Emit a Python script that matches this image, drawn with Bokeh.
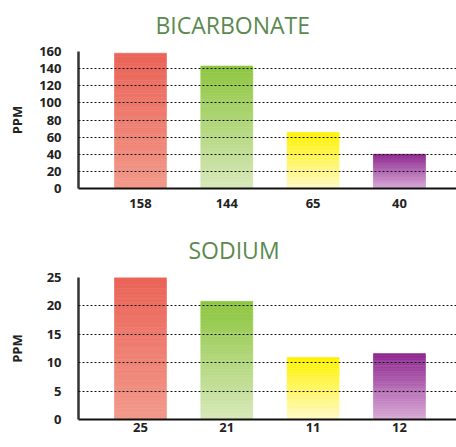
from bokeh.plotting import figure
from bokeh.models import Range1d, FixedTicker, ColumnDataSource, Title
from bokeh.layouts import column
from bokeh.embed import file_html
from bokeh.resources import INLINE

# ---- data ----
bic_labels = ["158", "144", "65", "40"]
bic_values = [158, 143, 65.5, 40]
bic_ticks = [0, 20, 40, 60, 80, 100, 120, 140, 160]

sod_labels = ["25", "21", "11", "12"]
sod_values = [25, 20.8, 10.9, 11.6]
sod_ticks = [0, 5, 10, 15, 20, 25]

top_colors = ["#ea6357", "#8dc63f", "#fff200", "#8e278f"]
bottom_colors = ["#f29a8b", "#d8e9bb", "#fffac8", "#d8abd6"]

TITLE_COLOR = "#5b8a4f"
TEXT_COLOR = "#222222"
FONT = "Open Sans"
NSEG = 40


def hex2rgb(h):
    h = h.lstrip("#")
    return tuple(int(h[i:i + 2], 16) for i in (0, 2, 4))


def mix(c1, c2, t):
    a, b = hex2rgb(c1), hex2rgb(c2)
    return "#%02x%02x%02x" % tuple(round(a[i] + (b[i] - a[i]) * t) for i in range(3))


def make(title, labels, values, ticks, height, min_top, min_bottom,
         title_offset, title_standoff, x_standoff, label_standoff):
    p = figure(width=456, height=height, output_backend="svg",
               toolbar_location=None, tools="",
               x_range=Range1d(-0.718, 3.661),
               y_range=Range1d(ticks[0], ticks[-1]),
               min_border_left=78, min_border_right=0,
               min_border_top=min_top, min_border_bottom=min_bottom)
    p.title = Title(text=title, align="left", offset=title_offset,
                    text_font=FONT, text_font_size="23px",
                    text_font_style="normal", text_color=TITLE_COLOR,
                    vertical_align="top", standoff=title_standoff)
    # gradient bars built from stacked slices
    xs, bots, tops, cols = [], [], [], []
    for i, v in enumerate(values):
        for k in range(NSEG):
            xs.append(i)
            bots.append(v * k / NSEG)
            tops.append(v * (k + 1) / NSEG)
            cols.append(mix(bottom_colors[i], top_colors[i], (k + 0.5) / NSEG))
    src = ColumnDataSource(dict(x=xs, bottom=bots, top=tops, color=cols))
    p.vbar(x="x", bottom="bottom", top="top", width=0.602, source=src,
           fill_color="color", line_color="color", line_width=0.6)

    p.outline_line_color = None
    p.background_fill_color = "white"
    p.border_fill_color = "white"

    p.xgrid.visible = False
    p.ygrid.ticker = FixedTicker(ticks=ticks)
    p.ygrid.grid_line_color = "#111111"
    p.ygrid.grid_line_dash = "2 2"
    p.ygrid.grid_line_width = 1
    p.ygrid.level = "annotation"

    p.xaxis.ticker = FixedTicker(ticks=list(range(len(labels))))
    p.xaxis.major_label_overrides = {i: lab for i, lab in enumerate(labels)}
    p.xaxis.major_tick_line_color = None
    p.xaxis.major_tick_out = 0
    p.xaxis.major_tick_in = 0
    p.xaxis.minor_tick_line_color = None
    p.xaxis.minor_tick_out = 0
    p.xaxis.axis_line_color = "#111111"
    p.xaxis.axis_line_width = 2
    p.xaxis.major_label_standoff = x_standoff
    p.xaxis.major_label_text_font = FONT
    p.xaxis.major_label_text_font_size = "13px"
    p.xaxis.major_label_text_font_style = "bold"
    p.xaxis.major_label_text_color = TEXT_COLOR

    p.yaxis.ticker = FixedTicker(ticks=ticks)
    p.yaxis.major_tick_line_color = None
    p.yaxis.major_tick_out = 0
    p.yaxis.major_tick_in = 0
    p.yaxis.minor_tick_line_color = None
    p.yaxis.minor_tick_out = 0
    p.yaxis.axis_line_color = "#333333"
    p.yaxis.axis_line_width = 2.5
    p.yaxis.major_label_standoff = 17
    p.yaxis.major_label_text_font = FONT
    p.yaxis.major_label_text_font_size = "13px"
    p.yaxis.major_label_text_font_style = "bold"
    p.yaxis.major_label_text_color = TEXT_COLOR
    p.yaxis.axis_label = "PPM"
    p.yaxis.axis_label_standoff = label_standoff
    p.yaxis.axis_label_text_font = FONT
    p.yaxis.axis_label_text_font_size = "13px"
    p.yaxis.axis_label_text_font_style = "bold"
    p.yaxis.axis_label_text_color = TEXT_COLOR
    return p


p1 = make("BICARBONATE", bic_labels, bic_values, bic_ticks, 222, 51, 34, 77, 17, 10, 10)
p2 = make("SODIUM", sod_labels, sod_values, sod_ticks, 225, 55, 28, 110, 20, 3, 18)

layout = column(p1, p2, spacing=0)
open("out.html", "w").write(file_html(layout, INLINE))
